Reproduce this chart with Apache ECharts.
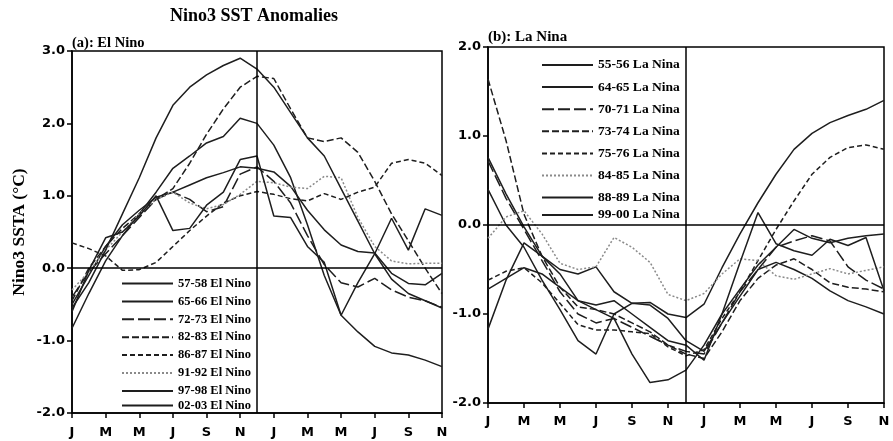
<!DOCTYPE html>
<html><head><meta charset="utf-8">
<script src="https://cdn.jsdelivr.net/npm/echarts@6/dist/echarts.min.js"></script>
<style>html,body{margin:0;padding:0;background:#fff}#c{width:893px;height:441px}</style>
</head><body><div id="c"></div>
<script>
// month tick labels (every second month, Jan of year0 .. Nov of year1)
const monthTicks = ['J','M','M','J','S','N','J','M','M','J','S','N'];

// (a) El Nino composites, monthly Jan(0) .. Nov(+1)
const elNames = ['57-58 El Nino','65-66 El Nino','72-73 El Nino','82-83 El Nino','86-87 El Nino','91-92 El Nino','97-98 El Nino','02-03 El Nino'];
const el5758 = [-0.5,-0.1,0.3,0.6,0.8,0.98,1.05,1.15,1.25,1.32,1.4,1.38,1.33,1.13,0.8,0.53,0.32,0.23,0.21,-0.07,-0.21,-0.23,-0.07];
const el6566 = [-0.83,-0.35,0.1,0.45,0.75,1.05,1.38,1.55,1.73,1.82,2.07,2.0,1.7,1.25,0.6,-0.1,-0.65,-0.88,-1.08,-1.17,-1.2,-1.27,-1.36];
const el7273 = [-0.4,-0.05,0.2,0.45,0.7,0.95,1.05,0.95,0.78,0.85,1.3,1.4,1.2,0.9,0.45,0.05,-0.2,-0.26,-0.14,-0.3,-0.4,-0.45,-0.54];
const el8283 = [-0.45,0.0,0.3,0.55,0.75,0.95,1.1,1.45,1.85,2.2,2.5,2.65,2.62,2.2,1.8,1.75,1.8,1.6,1.2,0.75,0.38,0.0,-0.35];
const el8687 = [0.35,0.27,0.17,-0.03,-0.02,0.08,0.3,0.52,0.72,0.9,1.0,1.06,1.02,0.96,0.93,1.03,0.95,1.05,1.12,1.45,1.5,1.45,1.28];
const el9192 = [-0.3,-0.05,0.25,0.5,0.75,0.95,1.05,0.9,0.82,0.88,1.02,1.2,1.18,1.12,1.1,1.27,1.25,0.7,0.3,0.1,0.06,0.07,0.07];
const el9798 = [-0.55,-0.2,0.25,0.75,1.25,1.8,2.25,2.5,2.67,2.8,2.9,2.75,2.5,2.15,1.8,1.55,1.1,0.65,0.2,-0.15,-0.35,-0.45,-0.55];
const el0203 = [-0.6,-0.03,0.42,0.5,0.72,1.0,0.52,0.55,0.87,1.05,1.5,1.55,0.72,0.7,0.3,0.08,-0.65,-0.2,0.2,0.69,0.25,0.82,0.73];

// (b) La Nina composites
const laNames = ['55-56 La Nina','64-65 La Nina','70-71 La Nina','73-74 La Nina','75-76 La Nina','84-85 La Nina','88-89 La Nina','99-00 La Nina'];
const la5556 = [0.4,0.0,-0.25,-0.62,-0.95,-1.3,-1.45,-1.0,-0.88,-0.9,-1.05,-1.3,-1.42,-1.1,-0.8,-0.5,-0.42,-0.5,-0.6,-0.74,-0.85,-0.92,-1.0];
const la6465 = [0.76,0.35,-0.02,-0.35,-0.5,-0.55,-0.47,-0.75,-0.88,-0.87,-1.0,-1.04,-0.89,-0.48,-0.1,0.25,0.57,0.85,1.03,1.15,1.23,1.3,1.4];
const la7071 = [0.72,0.3,-0.05,-0.4,-0.75,-1.0,-1.1,-1.05,-1.15,-1.25,-1.35,-1.42,-1.45,-1.1,-0.75,-0.5,-0.25,-0.18,-0.12,-0.18,-0.47,-0.62,-0.72];
const la7374 = [1.64,0.95,0.12,-0.35,-0.7,-0.92,-0.95,-1.0,-1.1,-1.2,-1.35,-1.45,-1.5,-1.2,-0.85,-0.6,-0.45,-0.38,-0.5,-0.65,-0.7,-0.72,-0.75];
const la7576 = [-0.62,-0.52,-0.48,-0.65,-0.88,-1.12,-1.18,-1.18,-1.2,-1.22,-1.37,-1.47,-1.4,-1.05,-0.75,-0.4,-0.05,0.27,0.57,0.76,0.87,0.9,0.85];
const la8485 = [-0.15,0.09,0.16,-0.1,-0.43,-0.5,-0.47,-0.14,-0.25,-0.42,-0.78,-0.85,-0.77,-0.55,-0.38,-0.4,-0.57,-0.61,-0.55,-0.49,-0.55,-0.51,-0.47];
const la8889 = [-0.72,-0.6,-0.48,-0.55,-0.7,-0.85,-0.95,-1.05,-1.45,-1.77,-1.74,-1.63,-1.35,-1.0,-0.72,-0.45,-0.25,-0.05,-0.15,-0.2,-0.15,-0.12,-0.1];
const la9900 = [-1.17,-0.62,-0.2,-0.35,-0.55,-0.85,-0.9,-0.85,-1.0,-1.15,-1.3,-1.35,-1.52,-1.0,-0.42,0.14,-0.21,-0.29,-0.34,-0.16,-0.23,-0.14,-0.74];

const serif = '"Liberation Serif","Times New Roman",serif';
const sans = '"DejaVu Sans",sans-serif';
const ink = '#1e1e1e';

const styles = {
  solid: {type:'solid', color: ink},
  long: {type:[12,4], color: ink},
  mid: {type:[7,3], color: ink},
  short: {type:[5,3], color: ink},
  dot: {type:[2,2], color: '#8a8a8a'}
};

function mk(name, vals, gi, st) {
  const s = styles[st];
  return {
    type: 'line', name: name, xAxisIndex: gi, yAxisIndex: gi,
    data: vals.map((v, i) => [i, v]),
    symbol: 'none', silent: true,
    lineStyle: {color: s.color, width: 1.5, type: s.type},
    itemStyle: {color: s.color}
  };
}

const refLines = {
  silent: true, symbol: 'none', label: {show: false},
  lineStyle: {color: '#000', width: 1.5, type: 'solid'},
  data: [{yAxis: 0}, {xAxis: 11}]
};

const series = [
  mk(elNames[0], el5758, 0, 'solid'),
  mk(elNames[1], el6566, 0, 'solid'),
  mk(elNames[2], el7273, 0, 'long'),
  mk(elNames[3], el8283, 0, 'mid'),
  mk(elNames[4], el8687, 0, 'short'),
  mk(elNames[5], el9192, 0, 'dot'),
  mk(elNames[6], el9798, 0, 'solid'),
  mk(elNames[7], el0203, 0, 'solid'),
  mk(laNames[0], la5556, 1, 'solid'),
  mk(laNames[1], la6465, 1, 'solid'),
  mk(laNames[2], la7071, 1, 'long'),
  mk(laNames[3], la7374, 1, 'mid'),
  mk(laNames[4], la7576, 1, 'short'),
  mk(laNames[5], la8485, 1, 'dot'),
  mk(laNames[6], la8889, 1, 'solid'),
  mk(laNames[7], la9900, 1, 'solid')
];
series[0].markLine = refLines;
series[8].markLine = refLines;

function xAx(gi, margin) {
  return {
    type: 'value', gridIndex: gi, min: 0, max: 22, interval: 2,
    axisLine: {show: true, onZero: false, lineStyle: {color: '#000', width: 1.5}},
    axisTick: {show: true, length: 5, lineStyle: {color: '#000', width: 1.5}},
    splitLine: {show: false},
    axisLabel: {margin: margin, color: '#000', fontFamily: sans, fontWeight: 'bold', fontSize: 13,
      formatter: v => monthTicks[v / 2]}
  };
}
function yAx(gi, min, max, name) {
  return {
    type: 'value', gridIndex: gi, min: min, max: max, interval: 1,
    name: name, nameLocation: 'middle', nameGap: 44, nameRotate: 90,
    nameTextStyle: {fontFamily: serif, fontWeight: 'bold', fontSize: 17.5, color: '#000'},
    axisLine: {show: true, onZero: false, lineStyle: {color: '#000', width: 1.5}},
    axisTick: {show: true, length: 5, lineStyle: {color: '#000', width: 1.5}},
    splitLine: {show: false},
    axisLabel: {margin: 7, color: '#000', fontFamily: sans, fontWeight: 'bold', fontSize: 13,
      formatter: v => v.toFixed(1)}
  };
}

const elText = {fontFamily: serif, fontWeight: 'bold', fontSize: 12.5, color: '#000'};
const laText = {fontFamily: serif, fontWeight: 'bold', fontSize: 13.5, color: '#000'};
function lg(names, left, top, gap, txt) {
  return {data: names, orient: 'vertical', left: left, top: top, itemWidth: 51, itemHeight: 12, itemGap: gap,
    itemStyle: {opacity: 0}, textStyle: txt, selectedMode: false};
}

const option = {
  animation: false,
  backgroundColor: '#fff',
  title: [
    {text: 'Nino3 SST Anomalies', left: 165, top: 2,
     textStyle: {fontFamily: serif, fontWeight: 'bold', fontSize: 18, color: '#000'}},
    {text: '(a): El Nino', left: 67, top: 31,
     textStyle: {fontFamily: serif, fontWeight: 'bold', fontSize: 14.5, color: '#000'}},
    {text: '(b): La Nina', left: 483, top: 25,
     textStyle: {fontFamily: serif, fontWeight: 'bold', fontSize: 15, color: '#000'}}
  ],
  grid: [
    {left: 72, top: 51, width: 370, height: 362, show: true, borderColor: '#000', borderWidth: 1.5, backgroundColor: 'transparent'},
    {left: 488, top: 47, width: 396, height: 356, show: true, borderColor: '#000', borderWidth: 1.5, backgroundColor: 'transparent'}
  ],
  xAxis: [xAx(0, 13), xAx(1, 12)],
  yAxis: [yAx(0, -2, 3, 'Nino3 SSTA (°C)'), yAx(1, -2, 2, '')],
  legend: [
    lg(elNames.slice(0, 7), 116, 272, 4.9, elText),
    lg(elNames.slice(7), 116, 394, 4.9, elText),
    lg(laNames.slice(0, 7), 536, 53, 8.1, laText),
    lg(laNames.slice(7), 536, 203, 8.1, laText)
  ],
  series: series
};

const chart = echarts.init(document.getElementById('c'), null, {renderer: 'canvas'});
chart.setOption(option);
</script>
</body></html>
